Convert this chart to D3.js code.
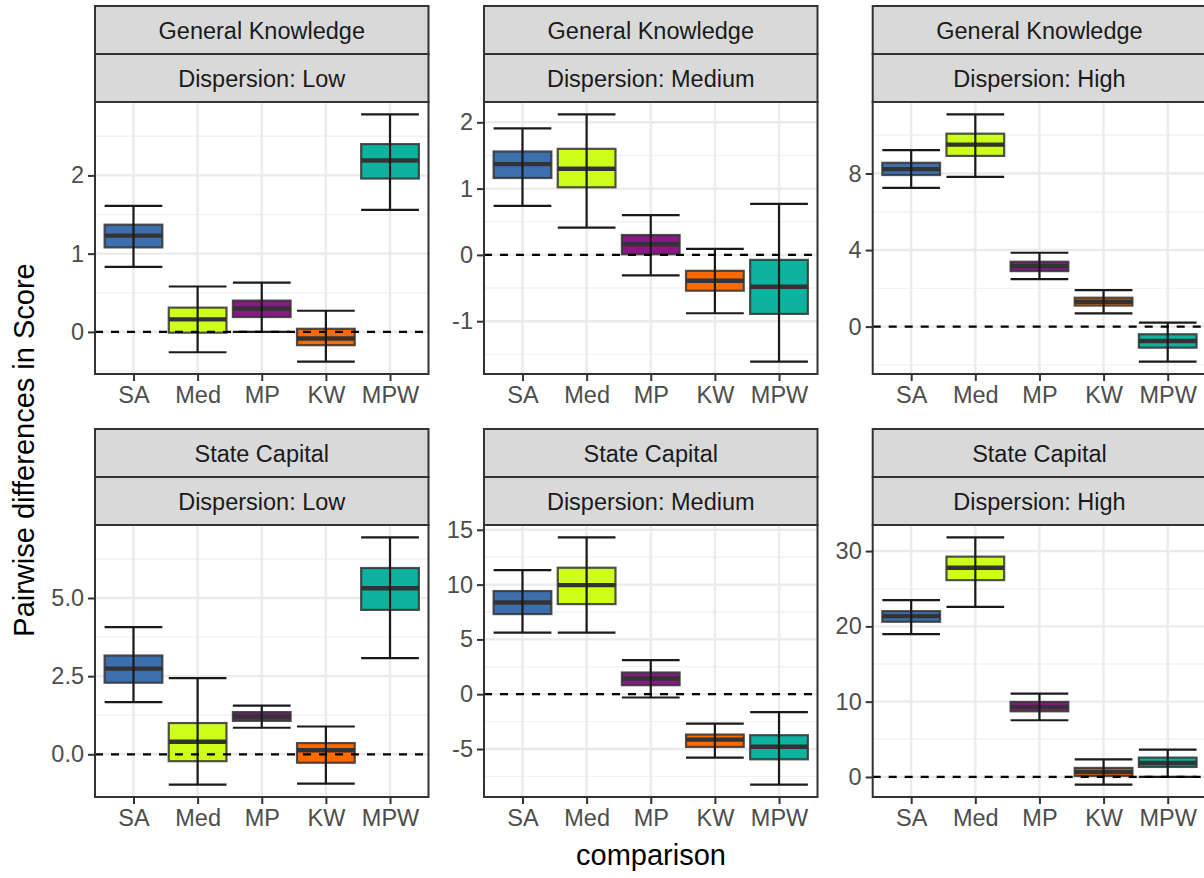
<!DOCTYPE html>
<html>
<head>
<meta charset="utf-8">
<script src="https://cdn.jsdelivr.net/npm/d3@7"></script>
<style>
  body { margin: 0; background: #fff; }
  text { font-family: "Liberation Sans", Arial, Helvetica, sans-serif; }
</style>
</head>
<body>
<div id="chart"></div>
<script>
// comparison methods (x categories)
const methods = ["SA", "Med", "MP", "KW", "MPW"];
const methodColors = ["#3b6fae", "#cdff1a", "#891a85", "#ff6a00", "#0db39e"];

// facet labels
const tasks = ["General Knowledge", "State Capital"];
const dispersions = ["Low", "Medium", "High"];

// each row: [whisker low, q1, median, q3, whisker high], one per method
const gkLow = [
  [0.83, 1.08, 1.23, 1.37, 1.61],
  [-0.26, -0.01, 0.16, 0.31, 0.58],
  [0.00, 0.19, 0.30, 0.40, 0.63],
  [-0.38, -0.17, -0.085, 0.04, 0.27],
  [1.56, 1.96, 2.19, 2.40, 2.78]
];
const gkMedium = [
  [0.74, 1.16, 1.37, 1.56, 1.91],
  [0.41, 1.02, 1.30, 1.60, 2.12],
  [-0.31, 0.01, 0.16, 0.30, 0.60],
  [-0.88, -0.54, -0.39, -0.24, 0.09],
  [-1.61, -0.89, -0.48, -0.075, 0.77]
];
const gkHigh = [
  [7.25, 7.92, 8.23, 8.56, 9.22],
  [7.82, 8.92, 9.51, 10.08, 11.09],
  [2.48, 2.90, 3.16, 3.39, 3.86],
  [0.69, 1.10, 1.30, 1.51, 1.91],
  [-1.83, -1.10, -0.75, -0.40, 0.21]
];
const scLow = [
  [1.67, 2.29, 2.74, 3.16, 4.07],
  [-0.97, -0.22, 0.40, 1.00, 2.44],
  [0.85, 1.07, 1.21, 1.35, 1.56],
  [-0.94, -0.27, 0.13, 0.36, 0.89],
  [3.08, 4.62, 5.31, 5.96, 6.94]
];
const scMedium = [
  [5.61, 7.31, 8.37, 9.41, 11.32],
  [5.61, 8.22, 9.95, 11.54, 14.31],
  [-0.30, 0.82, 1.43, 1.98, 3.11],
  [-5.78, -4.81, -4.14, -3.68, -2.68],
  [-8.25, -5.94, -4.80, -3.74, -1.64]
];
const scHigh = [
  [18.96, 20.61, 21.36, 22.02, 23.48],
  [22.6, 26.14, 27.79, 29.26, 31.82],
  [7.53, 8.72, 9.31, 9.97, 11.08],
  [-1.02, 0.13, 0.66, 1.20, 2.34],
  [0.00, 1.33, 1.86, 2.57, 3.63]
];

// y tick values and labels per panel
const gkLowTicks = [0, 1, 2];
const gkMediumTicks = [-1, 0, 1, 2];
const gkHighTicks = [0, 4, 8];
const scLowTicks = [0, 2.5, 5];
const scLowTickLabels = ["0.0", "2.5", "5.0"];
const scMediumTicks = [-5, 0, 5, 10, 15];
const scHighTicks = [0, 10, 20, 30];

const panels = [
  { task: 0, disp: 0, stats: gkLow, ticks: gkLowTicks },
  { task: 0, disp: 1, stats: gkMedium, ticks: gkMediumTicks },
  { task: 0, disp: 2, stats: gkHigh, ticks: gkHighTicks },
  { task: 1, disp: 0, stats: scLow, ticks: scLowTicks, labels: scLowTickLabels },
  { task: 1, disp: 1, stats: scMedium, ticks: scMediumTicks },
  { task: 1, disp: 2, stats: scHigh, ticks: scHighTicks }
];

// layout
const W = 1204, H = 878;
const colLeft = [95, 484, 872.7];
const rowTop = [6, 429];
const panelW = 333.5, stripH = 48, panelH = 272;
const fontSmall = 23.5, fontTitle = 29;

const svg = d3.select("#chart").append("svg")
  .attr("width", W).attr("height", H)
  .style("display", "block");
svg.append("rect").attr("width", W).attr("height", H).attr("fill", "#fff");

panels.forEach((p) => {
  const x0 = colLeft[p.disp];
  const sTop = rowTop[p.task];
  const pTop = sTop + 2 * stripH;
  const g = svg.append("g").attr("transform", `translate(${x0},${pTop})`);

  // scales (ggplot style 5% expansion on y, 0.6 on discrete x)
  const lo = d3.min(p.stats, (d) => d[0]);
  const hi = d3.max(p.stats, (d) => d[4]);
  const pad = (hi - lo) * 0.05;
  const y = d3.scaleLinear().domain([lo - pad, hi + pad]).range([panelH, 0]);
  const x = d3.scalePoint().domain(methods).range([0, panelW]).padding(0.6);
  const bw = x.step() * 0.9;

  // minor breaks midway between majors
  const step = p.ticks[1] - p.ticks[0];
  const minor = [p.ticks[0] - step / 2]
    .concat(p.ticks.map((t) => t + step / 2))
    .filter((v) => v > y.domain()[0] && v < y.domain()[1]);

  g.selectAll(".minor").data(minor).join("line")
    .attr("x1", 0).attr("x2", panelW)
    .attr("y1", (d) => y(d)).attr("y2", (d) => y(d))
    .attr("stroke", "#f2f2f2").attr("stroke-width", 1.4);
  g.selectAll(".hmajor").data(p.ticks).join("line")
    .attr("x1", 0).attr("x2", panelW)
    .attr("y1", (d) => y(d)).attr("y2", (d) => y(d))
    .attr("stroke", "#ebebeb").attr("stroke-width", 2.4);
  g.selectAll(".vmajor").data(methods).join("line")
    .attr("y1", 0).attr("y2", panelH)
    .attr("x1", (d) => x(d)).attr("x2", (d) => x(d))
    .attr("stroke", "#ebebeb").attr("stroke-width", 2.4);

  // boxes
  const rows = p.stats.map((s, i) => ({ m: methods[i], c: methodColors[i], s }));
  g.selectAll(".box").data(rows).join("rect")
    .attr("x", (d) => x(d.m) - bw / 2).attr("width", bw)
    .attr("y", (d) => y(d.s[3])).attr("height", (d) => y(d.s[1]) - y(d.s[3]))
    .attr("fill", (d) => d.c)
    .attr("stroke", "#333").attr("stroke-opacity", 0.85).attr("stroke-width", 2.2);
  g.selectAll(".med").data(rows).join("line")
    .attr("x1", (d) => x(d.m) - bw / 2).attr("x2", (d) => x(d.m) + bw / 2)
    .attr("y1", (d) => y(d.s[2])).attr("y2", (d) => y(d.s[2]))
    .attr("stroke", "#333").attr("stroke-width", 4.4);

  // error bars
  const eb = g.selectAll(".eb").data(rows).join("g");
  eb.append("line")
    .attr("x1", (d) => x(d.m)).attr("x2", (d) => x(d.m))
    .attr("y1", (d) => y(d.s[0])).attr("y2", (d) => y(d.s[4]));
  eb.append("line")
    .attr("x1", (d) => x(d.m) - bw / 2).attr("x2", (d) => x(d.m) + bw / 2)
    .attr("y1", (d) => y(d.s[0])).attr("y2", (d) => y(d.s[0]));
  eb.append("line")
    .attr("x1", (d) => x(d.m) - bw / 2).attr("x2", (d) => x(d.m) + bw / 2)
    .attr("y1", (d) => y(d.s[4])).attr("y2", (d) => y(d.s[4]));
  eb.selectAll("line").attr("stroke", "#1a1a1a").attr("stroke-width", 2.2);

  // zero reference line
  g.append("line")
    .attr("x1", 0).attr("x2", panelW)
    .attr("y1", y(0)).attr("y2", y(0))
    .attr("stroke", "#000").attr("stroke-width", 2.2)
    .attr("stroke-dasharray", "8,8");

  // panel border
  g.append("rect").attr("width", panelW).attr("height", panelH)
    .attr("fill", "none").attr("stroke", "#333").attr("stroke-width", 2);

  // axes
  const fmt = (d, i) => (p.labels ? p.labels[i] : String(d));
  const ya = g.append("g").call(
    d3.axisLeft(y).tickValues(p.ticks).tickFormat(fmt).tickSize(7).tickPadding(4)
  );
  const xa = g.append("g").attr("transform", `translate(0,${panelH})`)
    .call(d3.axisBottom(x).tickSize(7).tickPadding(5));
  [ya, xa].forEach((a) => {
    a.select(".domain").remove();
    a.selectAll(".tick line").attr("stroke", "#333").attr("stroke-width", 2);
    a.selectAll(".tick text").attr("fill", "#4d4d4d")
      .style("font-size", fontSmall + "px")
      .style("font-family", '"Liberation Sans", Arial, sans-serif');
  });

  // strips
  const strips = [tasks[p.task], "Dispersion: " + dispersions[p.disp]];
  strips.forEach((label, k) => {
    const sy = sTop + k * stripH;
    svg.append("rect")
      .attr("x", x0).attr("y", sy).attr("width", panelW).attr("height", stripH)
      .attr("fill", "#d9d9d9").attr("stroke", "#333").attr("stroke-width", 2);
    svg.append("text")
      .attr("x", x0 + panelW / 2).attr("y", sy + stripH / 2 + 8.5)
      .attr("text-anchor", "middle")
      .attr("fill", "#1a1a1a")
      .style("font-size", fontSmall + "px")
      .text(label);
  });
});

// axis titles
svg.append("text")
  .attr("x", 651).attr("y", 865)
  .attr("text-anchor", "middle")
  .style("font-size", fontTitle + "px")
  .attr("fill", "#000")
  .text("comparison");

svg.append("text")
  .attr("transform", "translate(34,450) rotate(-90)")
  .attr("text-anchor", "middle")
  .style("font-size", fontTitle + "px")
  .attr("fill", "#000")
  .text("Pairwise differences in Score");
</script>
</body>
</html>
